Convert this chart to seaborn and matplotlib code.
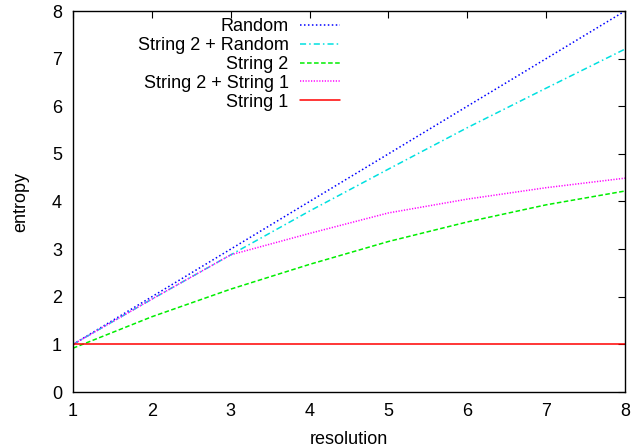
import matplotlib
matplotlib.use("Agg")
import matplotlib.pyplot as plt
import seaborn as sns
import pandas as pd

resolution = [1, 2, 3, 4, 5, 6, 7, 8]
random_vals = [1.0, 2.0, 3.0, 4.0, 5.0, 6.0, 7.0, 8.0]
s2_random = [1.0, 1.95, 2.88, 3.8, 4.68, 5.55, 6.38, 7.2]
s2 = [0.92, 1.58, 2.16, 2.68, 3.16, 3.57, 3.93, 4.22]
s2_s1 = [1.0, 1.95, 2.88, 3.33, 3.76, 4.05, 4.29, 4.49]
s1 = [1.0, 1.0, 1.0, 1.0, 1.0, 1.0, 1.0, 1.0]

labels = ["Random", "String 2 + Random", "String 2", "String 2 + String 1", "String 1"]
series = [random_vals, s2_random, s2, s2_s1, s1]
colors = ["#0000ff", "#00e0e0", "#00ee00", "#ff00ff", "#ff0000"]
dashes = [(1, 1.6), (4, 2, 1, 2), (3, 1.6), (0.8, 1.0), None]

sns.set_theme(style="white")
plt.rcParams["font.family"] = ["Liberation Sans", "DejaVu Sans"]
plt.rcParams["text.color"] = "black"
plt.rcParams["axes.labelcolor"] = "black"

fig = plt.figure(figsize=(6.36, 4.48), dpi=100)
ax = fig.add_axes([73 / 636, 56 / 448, 552 / 636, 381 / 448])

for lab, vals, col, d in zip(labels, series, colors, dashes):
    df = pd.DataFrame({"resolution": resolution, "entropy": vals})
    sns.lineplot(data=df, x="resolution", y="entropy", ax=ax, color=col,
                 linewidth=1.1, label=lab)
    l = ax.lines[-1]
    if d is not None:
        l.set_dashes(d)

ax.set_xlim(1, 8)
ax.set_ylim(0, 8)
ax.set_xticks(range(1, 9))
ax.set_yticks(range(0, 9))
ax.tick_params(direction="in", length=5, width=0.8, top=True, right=True,
               labelsize=13, colors="black")
ax.tick_params(axis="y", pad=8)
ax.tick_params(axis="x", pad=8)
for sp in ax.spines.values():
    sp.set_color("black")
    sp.set_linewidth(1.0)
ax.set_xlabel("resolution", fontsize=13, labelpad=8, color="black")
ax.set_ylabel("entropy", fontsize=13, labelpad=16, color="black")

leg = ax.legend(loc="upper right", bbox_to_anchor=(0.484, 0.982), frameon=False,
                markerfirst=False, fontsize=13, handlelength=2.2, handletextpad=0.65,
                labelspacing=0.11, borderpad=0, borderaxespad=0)
for t in leg.get_texts():
    t.set_color("black")

fig.savefig("out.png", dpi=100)
